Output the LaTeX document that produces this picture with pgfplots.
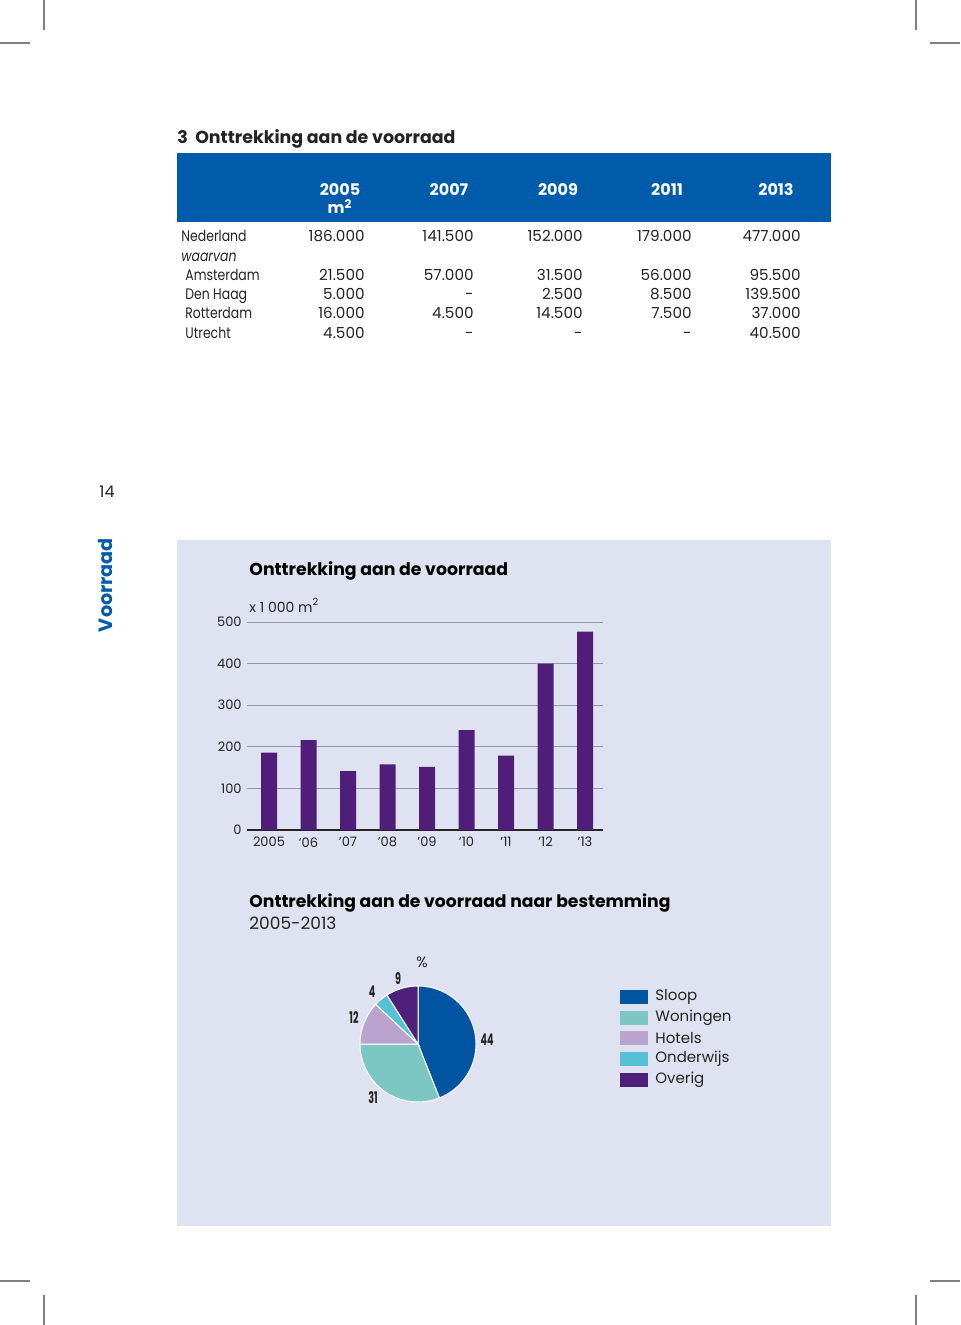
\documentclass[border=0pt]{standalone}
\usepackage{pgfplots}
\pgfplotsset{compat=1.18}
\usepackage{fontspec}
\setmainfont{Poppins}
\definecolor{hdrblue}{RGB}{0,92,170}
\definecolor{panel}{RGB}{223,227,241}
\definecolor{barpurple}{RGB}{80,30,120}
\definecolor{sloop}{RGB}{0,84,160}
\definecolor{woningen}{RGB}{124,198,196}
\definecolor{hotels}{RGB}{187,163,207}
\definecolor{onderwijs}{RGB}{86,192,214}
\definecolor{overig}{RGB}{78,32,122}
\definecolor{gridc}{RGB}{150,150,165}
\definecolor{txt}{RGB}{35,35,35}
\newcommand{\fs}[1]{\fontsize{#1}{#1}\selectfont}
\newcommand{\narrow}[1]{\scalebox{0.6}[1]{#1}}
\newcommand{\lab}[1]{\scalebox{0.82}[1]{#1}}
\pgfplotstableread{
idx value
0 186
1 216
2 141.5
3 158
4 152
5 240
6 179
7 400
8 477
}\bars
\begin{document}
\begin{tikzpicture}[x=0.5pt,y=0.5pt]
\path[use as bounding box] (0,0) rectangle (960,-1325);
% crop marks
\draw[gray, line width=0.6pt] (44,0)--(44,-30) (916,0)--(916,-30) (0,-43)--(30,-43) (930,-43)--(960,-43);
\draw[gray, line width=0.6pt] (44,-1325)--(44,-1295) (916,-1325)--(916,-1295) (0,-1281)--(30,-1281) (930,-1281)--(960,-1281);
% title
\node[anchor=base west, inner sep=0, font=\bfseries\fs{8.7}, text=txt] at (177,-144) {3\ \ Onttrekking aan de voorraad};
% header band
\fill[hdrblue] (177,-153) rectangle (831,-222);
\foreach \x/\y in {340/2005,449/2007,558/2009,667/2011,776/2013}
  \node[anchor=base, inner sep=0, font=\bfseries\fs{8}, text=white] at (\x,-196) {\y};
\node[anchor=base, inner sep=0, font=\bfseries\fs{8}, text=white] at (340,-214) {m\textsuperscript{2}};
% table rows
\begin{scope}[every node/.style={inner sep=0, font=\fs{7.6}, text=txt}]
\node[anchor=base west] at (181,-242) {\lab{Nederland}};
\node[anchor=base west, font=\itshape\fs{7.6}] at (181,-262) {\lab{waarvan}};
\node[anchor=base west] at (185,-281) {\lab{Amsterdam}};
\node[anchor=base west] at (185,-300) {\lab{Den Haag}};
\node[anchor=base west] at (185,-319) {\lab{Rotterdam}};
\node[anchor=base west] at (185,-339) {\lab{Utrecht}};
\foreach \y/\a/\b/\c/\d/\e in {242/186.000/141.500/152.000/179.000/477.000,
  281/21.500/57.000/31.500/56.000/95.500,
  300/5.000/-/2.500/8.500/139.500,
  319/16.000/4.500/14.500/7.500/37.000,
  339/4.500/-/-/-/40.500}{
  \node[anchor=base east] at (365,-\y) {\a};
  \node[anchor=base east] at (474,-\y) {\b};
  \node[anchor=base east] at (583,-\y) {\c};
  \node[anchor=base east] at (692,-\y) {\d};
  \node[anchor=base east] at (801,-\y) {\e};
}
\end{scope}
% page number and side label
\node[anchor=base, inner sep=0, font=\fs{8}, text=txt] at (107,-497) {14};
\node[rotate=90, inner sep=0, font=\bfseries\fs{9.6}, text=hdrblue] at (105,-585) {Voorraad};
% panel
\fill[panel] (177,-540) rectangle (831,-1226);
% bar chart
\node[anchor=base west, inner sep=0, font=\bfseries\fs{8.65}, text=black] at (249,-575) {Onttrekking aan de voorraad};
\node[anchor=base west, inner sep=0, font=\fs{7}, text=txt] at (249,-612) {x 1 000 m\textsuperscript{2}};
\begin{axis}[at={(123.5pt,-415pt)}, anchor=south west, scale only axis,
  width=178pt, height=104pt,
  xmin=-0.557, xmax=8.456, ymin=0, ymax=500,
  enlargelimits=false,
  axis x line=bottom, axis y line=left,
  x axis line style={-, line width=0.8pt, color=txt},
  y axis line style={draw=none},
  major tick length=0pt,
  ytick={0,100,...,500},
  xtick={0,...,8},
  xticklabels={2005,’06,’07,’08,’09,’10,’11,’12,’13},
  ymajorgrids, grid style={gridc, line width=0.5pt},
  tick label style={font=\fs{6.5}, text=txt},
  /pgf/number format/assume math mode=true,
  yticklabel style={inner sep=0pt, xshift=-2.5pt},
  xticklabel style={inner sep=0pt, yshift=-3.5pt},
]
\addplot[ybar, bar width=8pt, fill=barpurple, draw=none] table[x=idx, y=value] {\bars};
\end{axis}
% pie section
\node[anchor=base west, inner sep=0, font=\bfseries\fs{8.6}, text=black] at (249,-907) {Onttrekking aan de voorraad naar bestemming};
\node[anchor=base west, inner sep=0, font=\fs{8.5}, text=txt] at (249,-929) {2005-2013};
\def\startang{90}
\foreach \p/\c in {44/sloop,31/woningen,12/hotels,4/onderwijs,9/overig}{
  \pgfmathsetmacro{\endang}{\startang-\p*3.6}
  \fill[\c, draw=white, line width=0.5pt] (418,-1044) -- ++(\startang:58) arc[start angle=\startang, end angle=\endang, radius=58] -- cycle;
  \global\let\startang\endang
}
\begin{scope}[every node/.style={inner sep=0, font=\bfseries\fs{8}, text=txt}]
\node at (487,-1040) {\narrow{44}};
\node at (373,-1098) {\narrow{31}};
\node at (354,-1018) {\narrow{12}};
\node at (372,-992) {\narrow{4}};
\node at (398,-979) {\narrow{9}};
\node[font=\fs{7.5}] at (422,-962) {\%};
\end{scope}
% legend
\foreach \y/\c/\t in {997/sloop/Sloop,1018/woningen/Woningen,1038/hotels/Hotels,1059/onderwijs/Onderwijs,1080/overig/Overig}{
  \fill[\c] (620,-\y+7) rectangle (648,-\y-7);
  \node[anchor=west, inner sep=0, font=\fs{7.5}, text=txt] at (655,-\y) {\t};
}
\end{tikzpicture}
\end{document}
